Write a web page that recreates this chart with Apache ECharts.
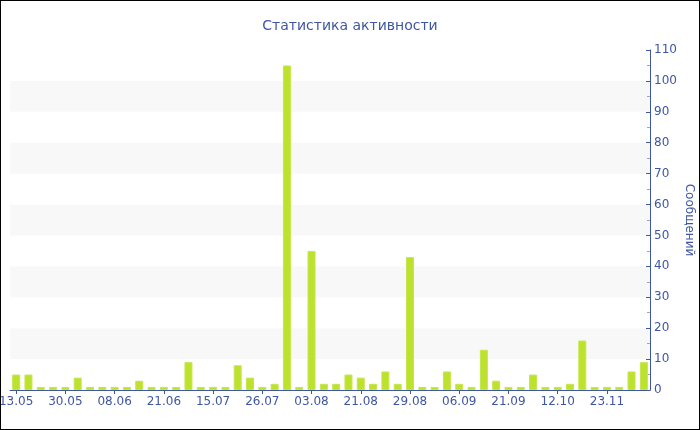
<!DOCTYPE html>
<html>
<head>
<meta charset="utf-8">
<script src="https://cdn.jsdelivr.net/npm/echarts@6/dist/echarts.min.js"></script>
<style>
html,body{margin:0;padding:0;background:#fff;}
#c{width:700px;height:430px;box-sizing:border-box;border:1px solid #000;}
</style>
</head>
<body>
<div id="c"></div>
<script>
// Tick labels shown every 4th category
const tickLabels = ["13.05","30.05","08.06","21.06","15.07","26.07","03.08","21.08","29.08","06.09","21.09","12.10","23.11"];
const labelStep = 4;
const categoryCount = 52;
// Messages per category
const messages = [5,5,1,1,1,4,1,1,1,1,3,1,1,1,9,1,1,1,8,4,1,2,105,1,45,2,2,5,4,2,6,2,43,1,1,6,2,1,13,3,1,1,5,1,1,2,16,1,1,1,6,9];

const categories = [];
for (let i = 0; i < categoryCount; i++) {
  categories.push(i % labelStep === 0 ? tickLabels[i / labelStep] : "");
}

const blue = '#3f56a3';
const chart = echarts.init(document.getElementById('c'), null, {renderer: 'canvas'});
chart.setOption({
  animation: false,
  textStyle: {fontFamily: 'DejaVu Sans'},
  title: {
    text: 'Статистика активности',
    left: 'center',
    top: 13,
    textStyle: {color: blue, fontSize: 14, fontWeight: 'normal', fontFamily: 'DejaVu Sans'}
  },
  grid: {left: 9, right: 49, top: 49, bottom: 39, containLabel: false, outerBoundsMode: 'none'},
  xAxis: {
    type: 'category',
    data: categories,
    axisLine: {lineStyle: {color: blue, width: 1}},
    axisTick: {show: true, alignWithLabel: true, interval: labelStep - 1, length: 4, lineStyle: {color: blue}},
    axisLabel: {interval: labelStep - 1, color: blue, fontSize: 12, margin: 6},
    splitLine: {show: false}
  },
  yAxis: {
    type: 'value',
    position: 'right',
    min: 0,
    max: 110,
    interval: 10,
    name: 'Сообщений',
    nameLocation: 'middle',
    nameRotate: -90,
    nameGap: 33,
    nameMoveOverlap: false,
    nameTextStyle: {color: blue, fontSize: 12},
    axisLine: {show: true, lineStyle: {color: blue}},
    axisTick: {show: true, inside: true, length: 4, lineStyle: {color: blue}},
    minorTick: {show: true, splitNumber: 2, length: 3, lineStyle: {color: '#9aa6cc'}},
    axisLabel: {color: blue, fontSize: 12, margin: 4},
    splitLine: {show: false},
    splitArea: {show: true, areaStyle: {color: ['#ffffff', '#f8f8f8']}}
  },
  series: [{
    type: 'bar',
    data: messages,
    barWidth: 8,
    itemStyle: {color: '#bde22e', borderColor: '#c6e54c', borderWidth: 1}
  }]
});
</script>
</body>
</html>
